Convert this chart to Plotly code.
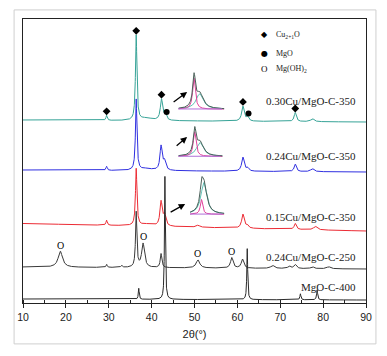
import numpy as np
import plotly.graph_objects as go

# ---------------- data ----------------
x_ticks = [10, 20, 30, 40, 50, 60, 70, 80, 90]

series_names = ["0.30Cu/MgO-C-350", "0.24Cu/MgO-C-350", "0.15Cu/MgO-C-350",
                "0.24Cu/MgO-C-250", "MgO-C-400"]
series_colors = ["#36a397", "#2f2fe0", "#ec2b34", "#3a3a3a", "#2a2a2a"]

# stacking offsets (background level at 2θ=10 and at 2θ=90)
offset_left = [183, 133, 79.5, 36, 4]
offset_right = [181, 131, 72, 34, 3]

# peak positions (2θ), heights, half widths
teal_pos = [29.5, 36.4, 38.8, 42.3, 43.2, 61.3, 62.4, 73.5, 77.5]
teal_h = [5, 85, 2.5, 21, 6, 15, 4, 9, 3]
teal_w = [0.18, 0.2, 1.6, 0.32, 0.3, 0.35, 0.3, 0.3, 0.45]

blue_pos = [29.5, 36.4, 38.8, 42.2, 43.0, 61.3, 62.4, 73.5, 77.5]
blue_h = [4, 71, 2, 24, 9, 14, 3, 7.5, 3]
blue_w = [0.18, 0.2, 1.6, 0.3, 0.35, 0.35, 0.3, 0.3, 0.45]

red_pos = [29.5, 36.4, 38.8, 42.2, 43.0, 50.8, 61.3, 62.3, 73.5, 78.2]
red_h = [5, 57, 2, 24, 11, 2, 14, 3, 6, 3.5]
red_w = [0.18, 0.2, 1.6, 0.3, 0.35, 0.5, 0.35, 0.3, 0.3, 0.5]

b250_pos = [18.7, 29.5, 33.0, 36.4, 38.0, 42.2, 50.8, 58.7, 61.2, 68.2, 72.1, 73.5, 77.5, 81.3]
b250_h = [16, 3, 2, 55, 24, 14, 8, 10.5, 9, 3, 2.5, 4, 2, 2]
b250_w = [0.6, 0.15, 0.2, 0.18, 0.4, 0.22, 0.5, 0.35, 0.35, 0.5, 0.35, 0.35, 0.4, 0.5]

mgo_pos = [37.0, 43.1, 62.3, 74.7, 78.6]
mgo_h = [11, 123, 51, 6, 10]
mgo_w = [0.12, 0.12, 0.12, 0.14, 0.14]

peak_pos = [teal_pos, blue_pos, red_pos, b250_pos, mgo_pos]
peak_h = [teal_h, blue_h, red_h, b250_h, mgo_h]
peak_w = [teal_w, blue_w, red_w, b250_w, mgo_w]

# phase markers
cu2o_marks = [29.5, 36.4, 42.3, 61.3, 73.5]     # on 0.30Cu/MgO-C-350
mgo_marks = [43.5, 62.6]                         # on 0.30Cu/MgO-C-350
mgoh2_marks = [18.7, 38.0, 50.8, 58.7]           # on 0.24Cu/MgO-C-250

# inset peak fits: [Cu2O component, second component]
inset_pos = [[42.36, 42.85], [42.4, 42.85], [42.5, 42.7]]
inset_h = [[0.85, 0.42], [0.8, 0.45], [0.42, 0.9]]
inset_w = [[0.14, 0.38], [0.14, 0.36], [0.12, 0.3]]
inset_range = [[41.0, 45.0], [41.0, 44.8], [41.5, 44.5]]

# ---------------- build ----------------
tt = np.linspace(10, 90, 4001)


def pattern(x, pos, h, w):
    y = np.zeros_like(x, dtype=float)
    for p, a, g in zip(pos, h, w):
        y += a / (1 + ((x - p) / g) ** 2)
    return y


def series_curve(i, x):
    x = np.asarray(x, dtype=float)
    bg = offset_left[i] + (offset_right[i] - offset_left[i]) * (x - 10) / 80
    return bg + pattern(x, peak_pos[i], peak_h[i], peak_w[i])


fig = go.Figure()
for i in range(5):
    fig.add_trace(go.Scatter(x=tt, y=series_curve(i, tt), mode="lines",
                             line=dict(color=series_colors[i], width=1),
                             name=series_names[i], showlegend=False,
                             hoverinfo="skip"))

# markers
fig.add_trace(go.Scatter(x=cu2o_marks, y=series_curve(0, cu2o_marks) + 4,
                         mode="markers", marker=dict(symbol="diamond", size=6, color="black"),
                         showlegend=False, hoverinfo="skip"))
fig.add_trace(go.Scatter(x=mgo_marks, y=series_curve(0, mgo_marks) + 4,
                         mode="markers", marker=dict(symbol="circle", size=6, color="black"),
                         showlegend=False, hoverinfo="skip"))
for mx, my in zip(mgoh2_marks, series_curve(3, mgoh2_marks)):
    fig.add_annotation(x=mx, y=float(my) + 6, xref="x", yref="y", text="O", showarrow=False,
                       xanchor="center", yanchor="middle",
                       font=dict(family="Liberation Serif", size=10, color="black"))

# insets
inset_dom_x = [[0.453, 0.587], [0.453, 0.582], [0.487, 0.587]]
inset_dom_y = [[0.680, 0.812], [0.514, 0.622], [0.310, 0.446]]
for k in range(3):
    xa = "x%d" % (k + 2)
    ya = "y%d" % (k + 2)
    xi = np.linspace(inset_range[k][0], inset_range[k][1], 300)
    c1 = pattern(xi, [inset_pos[k][0]], [inset_h[k][0]], [inset_w[k][0]])
    c2 = pattern(xi, [inset_pos[k][1]], [inset_h[k][1]], [inset_w[k][1]])
    fig.add_trace(go.Scatter(x=xi, y=c2, xaxis=xa, yaxis=ya, mode="lines",
                             line=dict(color="#5fc0b5", width=1), showlegend=False, hoverinfo="skip"))
    fig.add_trace(go.Scatter(x=xi, y=c1, xaxis=xa, yaxis=ya, mode="lines",
                             line=dict(color="#e0409a", width=1), showlegend=False, hoverinfo="skip"))
    fig.add_trace(go.Scatter(x=xi, y=c1 + c2, xaxis=xa, yaxis=ya, mode="lines",
                             line=dict(color="#4a5f58", width=1), showlegend=False, hoverinfo="skip"))
    top = float((c1 + c2).max())
    fig.update_layout(**{
        "xaxis%d" % (k + 2): dict(domain=inset_dom_x[k], range=inset_range[k], visible=False,
                                  anchor=ya, fixedrange=True),
        "yaxis%d" % (k + 2): dict(domain=inset_dom_y[k], range=[-0.02, top * 1.0], visible=False,
                                  anchor=xa, fixedrange=True),
    })
    fig.add_shape(type="line", xref=xa + " domain", yref=ya, x0=0.0, x1=0.95, y0=0.005, y1=0.005,
                  line=dict(color="#b06fd8", width=1))

# arrows (tip in main-axis coordinates, tail offset in pixels)
arrow_tips = [(48.28, 211), (48.28, 166), (47.82, 99)]
arrow_tails = [(-15, 11), (-12, 10), (-16, 9)]
for (ax_, ay_), (tx, ty) in zip(arrow_tails, arrow_tips):
    fig.add_annotation(x=tx, y=ty, ax=ax_, ay=ay_, xref="x", yref="y", text="",
                       showarrow=True, arrowhead=2, arrowsize=1, arrowwidth=1.3,
                       arrowcolor="black")

# series labels
label_y = [0.711, 0.518, 0.303, 0.162, 0.056]
for name, yy in zip(series_names, label_y):
    fig.add_annotation(x=0.976, y=yy, xref="paper", yref="paper", text=name, showarrow=False,
                       xanchor="right", yanchor="middle",
                       font=dict(family="Liberation Serif", size=11, color="#222"))

# phase legend
leg_sym = ["◆", "●", "O"]
leg_txt = ["Cu<sub>2+1</sub>O", "MgO", "Mg(OH)<sub>2</sub>"]
leg_y = [0.944, 0.880, 0.824]
leg_sym_font = ["DejaVu Sans", "DejaVu Sans", "Liberation Serif"]
leg_sym_size = [8, 8, 9]
for s, t, yy, f, fs in zip(leg_sym, leg_txt, leg_y, leg_sym_font, leg_sym_size):
    fig.add_annotation(x=0.705, y=yy, xref="paper", yref="paper", text=s, showarrow=False,
                       xanchor="center", yanchor="middle", font=dict(family=f, size=fs, color="black"))
    fig.add_annotation(x=0.731, y=yy, xref="paper", yref="paper", text=t, showarrow=False,
                       xanchor="left", yanchor="middle",
                       font=dict(family="Liberation Serif", size=8, color="#222"))

# outer light frame
fig.add_shape(type="rect", xref="paper", yref="paper", x0=-0.026, x1=1.029, y0=-0.144, y1=1.032,
              line=dict(color="#cfcfcf", width=1), fillcolor="rgba(0,0,0,0)", layer="below")

# the page body adds an 8px margin, so the plot margins are reduced by 8px
fig.update_layout(
    width=387, height=356,
    margin=dict(l=9, r=29, t=11, b=61),
    paper_bgcolor="white", plot_bgcolor="white",
    showlegend=False,
    xaxis=dict(range=[10, 90], tickvals=x_ticks, ticks="outside", ticklen=4, tickwidth=1,
               tickcolor="#222", showline=True, linecolor="#222", linewidth=1, mirror=True,
               showgrid=False, zeroline=False,
               tickfont=dict(family="Liberation Sans", size=10.5, color="#222"),
               minor=dict(dtick=5, tick0=5, ticks="inside", ticklen=3, tickcolor="#222", showgrid=False),
               title=dict(text="2θ(°)", standoff=8,
                          font=dict(family="Liberation Sans", size=11, color="#222"))),
    yaxis=dict(range=[0, 284], showticklabels=False, ticks="", showline=True, linecolor="#222",
               linewidth=1, mirror=True, showgrid=False, zeroline=False),
)

fig.write_html("out.html")
